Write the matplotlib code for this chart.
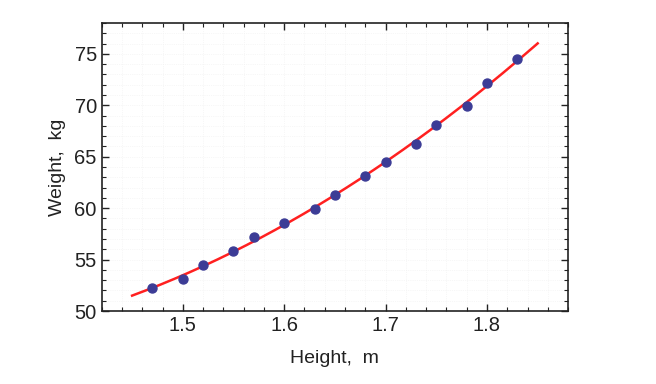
import numpy as np
import matplotlib
matplotlib.use("Agg")
import matplotlib.pyplot as plt
from matplotlib.ticker import MultipleLocator

height = [1.47, 1.50, 1.52, 1.55, 1.57, 1.60, 1.63, 1.65, 1.68, 1.70, 1.73, 1.75, 1.78, 1.80, 1.83]
weight = [52.21, 53.12, 54.48, 55.84, 57.20, 58.57, 59.93, 61.29, 63.11, 64.47, 66.28, 68.10, 69.92, 72.19, 74.46]
fit_range = [1.45, 1.85]

plt.rcParams['font.family'] = ['Liberation Sans', 'DejaVu Sans']
fig = plt.figure(figsize=(6.56, 3.84), dpi=100)
ax = fig.add_axes([0.155, 0.19, 0.711, 0.75])

coef = np.polyfit(height, weight, 2)
xs = np.linspace(fit_range[0], fit_range[1], 200)
ax.plot(xs, np.polyval(coef, xs), color='#ff2020', lw=1.8, zorder=2)
ax.scatter(height, weight, s=42, color='#3c3c96', zorder=3)

ax.set_xlim(1.42, 1.88)
ax.set_ylim(50, 78)
ax.xaxis.set_major_locator(MultipleLocator(0.1))
ax.xaxis.set_minor_locator(MultipleLocator(0.02))
ax.yaxis.set_major_locator(MultipleLocator(5))
ax.yaxis.set_minor_locator(MultipleLocator(1))
ax.tick_params(which='both', direction='in', top=True, right=True, labelsize=14.5, colors='#222222')
ax.tick_params(which='major', length=5, width=1)
ax.tick_params(which='minor', length=3, width=0.8)
ax.set_xticks([1.5, 1.6, 1.7, 1.8])
ax.set_xticklabels(['1.5', '1.6', '1.7', '1.8'])
for s in ax.spines.values():
    s.set_linewidth(1.2)
    s.set_color('#222222')
ax.grid(True, which='both', color='#f0f0f0', lw=0.5, ls=':')
ax.set_axisbelow(True)
ax.set_xlabel('Height,  m', fontsize=14, color='#222222', labelpad=11)
ax.set_ylabel('Weight,  kg', fontsize=14, color='#222222', labelpad=6)

fig.savefig('out.png', dpi=100)
